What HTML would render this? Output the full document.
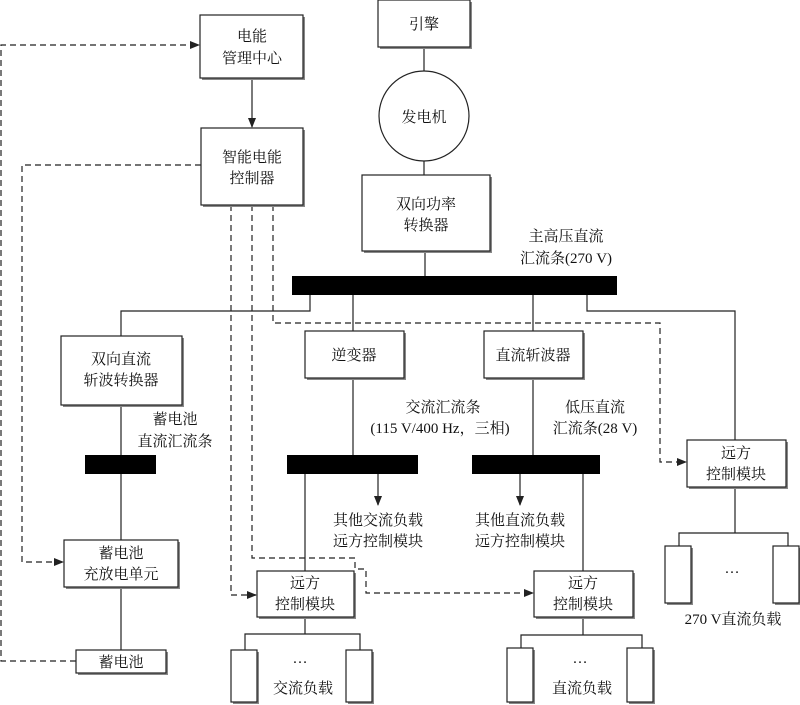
<!DOCTYPE html>
<html><head><meta charset="utf-8"><style>
html,body{margin:0;padding:0;background:#fff;}
svg{display:block;}
text{font-family:"Liberation Serif","Noto Serif CJK SC","Noto Sans CJK SC",serif;font-size:15px;fill:#111;text-anchor:middle;}
</style></head><body>
<svg width="800" height="705" viewBox="0 0 800 705" xmlns="http://www.w3.org/2000/svg">
<defs>
<marker id="a" markerWidth="10" markerHeight="8" refX="9" refY="4" orient="auto" markerUnits="userSpaceOnUse"><path d="M0,0 L10,4 L0,8 Z" fill="#222"/></marker>
</defs>
<g fill="none" stroke="#222" stroke-width="1.2">
<!-- solid lines -->
<line x1="252" y1="78" x2="252" y2="127" marker-end="url(#a)"/>
<line x1="424" y1="47" x2="424" y2="72"/>
<line x1="424" y1="160" x2="424" y2="175"/>
<line x1="425" y1="252" x2="425" y2="276"/>
<polyline points="310,295 310,311 121,311 121,336"/>
<line x1="353" y1="295" x2="353" y2="331"/>
<line x1="533" y1="295" x2="533" y2="331"/>
<polyline points="587,295 587,311 735,311 735,440"/>
<line x1="121" y1="405" x2="121" y2="455"/>
<line x1="121" y1="474" x2="121" y2="540"/>
<line x1="121" y1="587" x2="121" y2="650"/>
<line x1="353" y1="378" x2="353" y2="455"/>
<line x1="533" y1="378" x2="533" y2="455"/>
<line x1="378" y1="474" x2="378" y2="505" marker-end="url(#a)"/>
<line x1="520" y1="474" x2="520" y2="505" marker-end="url(#a)"/>
<line x1="305" y1="474" x2="305" y2="571"/>
<line x1="583" y1="474" x2="583" y2="571"/>
<!-- load trees -->
<line x1="305" y1="617" x2="305" y2="634"/>
<polyline points="245,650 245,634 360,634 360,650"/>
<line x1="583" y1="617" x2="583" y2="635"/>
<polyline points="521,648 521,635 642,635 642,648"/>
<line x1="735" y1="487" x2="735" y2="533"/>
<polyline points="679,546 679,533 788,533 788,546"/>
</g>
<!-- dashed -->
<g fill="none" stroke="#222" stroke-width="1.2" stroke-dasharray="6,4">
<polyline points="76,661 1,661 1,45 199,45" marker-end="url(#a)"/>
<polyline points="201,165 22,165 22,562 63,562" marker-end="url(#a)"/>
<polyline points="231,205 231,595 256,595" marker-end="url(#a)"/>
<polyline points="252,205 252,558 355,558 355,569 366,569 366,593 533,593" marker-end="url(#a)"/>
<polyline points="273,205 273,323 660,323 660,462 686,462" marker-end="url(#a)"/>
</g>
<!-- buses -->
<g fill="#000">
<rect x="292" y="276" width="325" height="19"/>
<rect x="85" y="455" width="71" height="19"/>
<rect x="287" y="455" width="131" height="19"/>
<rect x="472" y="455" width="128" height="19"/>
</g>
<!-- boxes with shadow -->
<g stroke="#222" stroke-width="1.2" fill="#fff">
<g fill="#888" stroke="none">
<rect x="202" y="17" width="103" height="63"/>
<rect x="203" y="130" width="102" height="77"/>
<rect x="380" y="2" width="92" height="47"/>
<rect x="364" y="177" width="128" height="76"/>
<rect x="63" y="338" width="121" height="69"/>
<rect x="307" y="333" width="99" height="47"/>
<rect x="486" y="333" width="99" height="47"/>
<rect x="689" y="442" width="99" height="47"/>
<rect x="66" y="542" width="114" height="47"/>
<rect x="78" y="652" width="90" height="23"/>
<rect x="259" y="573" width="97" height="46"/>
<rect x="536" y="573" width="99" height="46"/>
<rect x="233" y="652" width="26" height="52"/>
<rect x="348" y="652" width="26" height="52"/>
<rect x="509" y="650" width="26" height="54"/>
<rect x="629" y="650" width="26" height="54"/>
<rect x="667" y="548" width="26" height="57"/>
<rect x="775" y="548" width="26" height="57"/>
</g>
<rect x="200" y="15" width="103" height="63"/>
<rect x="201" y="128" width="102" height="77"/>
<rect x="378" y="0" width="92" height="47"/>
<circle cx="424" cy="116" r="45"/>
<rect x="362" y="175" width="128" height="76"/>
<rect x="61" y="336" width="121" height="69"/>
<rect x="305" y="331" width="99" height="47"/>
<rect x="484" y="331" width="99" height="47"/>
<rect x="687" y="440" width="99" height="47"/>
<rect x="64" y="540" width="114" height="47"/>
<rect x="76" y="650" width="90" height="23"/>
<rect x="257" y="571" width="97" height="46"/>
<rect x="534" y="571" width="99" height="46"/>
<rect x="231" y="650" width="26" height="52"/>
<rect x="346" y="650" width="26" height="52"/>
<rect x="507" y="648" width="26" height="54"/>
<rect x="627" y="648" width="26" height="54"/>
<rect x="665" y="546" width="26" height="57"/>
<rect x="773" y="546" width="26" height="57"/>
</g>
<!-- text -->
<text x="252" y="41">电能</text>
<text x="252" y="63">管理中心</text>
<text x="252" y="162">智能电能</text>
<text x="252" y="183">控制器</text>
<text x="424" y="29">引擎</text>
<text x="424" y="122">发电机</text>
<text x="426" y="209">双向功率</text>
<text x="426" y="230">转换器</text>
<text x="566" y="241">主高压直流</text>
<text x="566" y="263">汇流条(270 V)</text>
<text x="121" y="364">双向直流</text>
<text x="121" y="385">斩波转换器</text>
<text x="354" y="360">逆变器</text>
<text x="533" y="360">直流斩波器</text>
<text x="175" y="424">蓄电池</text>
<text x="175" y="446">直流汇流条</text>
<text x="443" y="412">交流汇流条</text>
<text x="440" y="433">(115 V/400 Hz，三相)</text>
<text x="595" y="412">低压直流</text>
<text x="595" y="433">汇流条(28 V)</text>
<text x="736" y="458">远方</text>
<text x="736" y="479">控制模块</text>
<text x="378" y="525">其他交流负载</text>
<text x="378" y="546">远方控制模块</text>
<text x="520" y="525">其他直流负载</text>
<text x="520" y="546">远方控制模块</text>
<text x="121" y="558">蓄电池</text>
<text x="121" y="579">充放电单元</text>
<text x="121" y="667">蓄电池</text>
<text x="305" y="588">远方</text>
<text x="305" y="609">控制模块</text>
<text x="583" y="588">远方</text>
<text x="583" y="609">控制模块</text>
<text x="300" y="663">…</text>
<text x="303" y="693">交流负载</text>
<text x="580" y="663">…</text>
<text x="582" y="693">直流负载</text>
<text x="732" y="573">…</text>
<text x="733" y="624">270 V直流负载</text>
</svg>
</body></html>
